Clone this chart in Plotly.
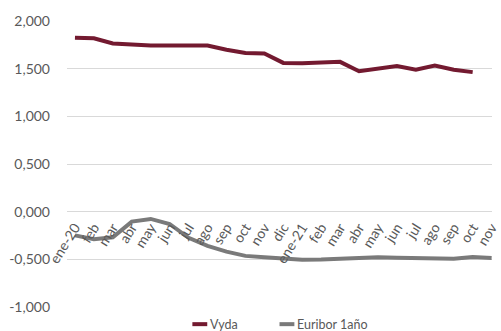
import plotly.graph_objects as go

# Monthly series, Jan 2020 - Nov 2021
months = ["ene-20", "feb", "mar", "abr", "may", "jun", "jul", "ago", "sep", "oct", "nov", "dic",
          "ene-21", "feb", "mar", "abr", "may", "jun", "jul", "ago", "sep", "oct", "nov"]
vyda = [1.825, 1.820, 1.766, 1.753, 1.745, 1.745, 1.745, 1.745, 1.700, 1.665, 1.660, 1.562,
        1.558, 1.565, 1.573, 1.475, 1.505, 1.530, 1.490, 1.535, 1.490, 1.465]
euribor = [-0.250, -0.290, -0.270, -0.105, -0.077, -0.130, -0.275, -0.360, -0.420, -0.465,
           -0.480, -0.495, -0.505, -0.503, -0.495, -0.487, -0.480, -0.486, -0.488, -0.497,
           -0.496, -0.477, -0.487]
y_ticks = [-1.0, -0.5, 0.0, 0.5, 1.0, 1.5, 2.0]
y_tick_text = ["-1,000", "-0,500", "0,000", "0,500", "1,000", "1,500", "2,000"]
series_names = ["Vyda", "Euribor 1año"]
series_colors = ["#731a30", "#7a7a7a"]

x_idx = list(range(len(months)))
y_min, y_max = -1.0, 2.0

fig = go.Figure()
fig.add_trace(go.Scatter(x=x_idx[:len(vyda)], y=vyda, mode="lines", name=series_names[0],
                         line=dict(color=series_colors[0], width=4), showlegend=False))
fig.add_trace(go.Scatter(x=x_idx, y=euribor, mode="lines", name=series_names[1],
                         line=dict(color=series_colors[1], width=4), showlegend=False))

grey_text = "#595959"
fig.update_layout(
    width=501, height=331,
    margin=dict(l=67, r=0, t=21, b=24),
    plot_bgcolor="white", paper_bgcolor="white",
    font=dict(family="Lato, Open Sans, sans-serif", color=grey_text),
    xaxis=dict(
        range=[-0.42, 22.02],
        tickmode="array", tickvals=x_idx, ticktext=months, tickangle=-58,
        tickfont=dict(size=14, color=grey_text), ticklabeloverflow="allow",
        ticklabelstandoff=4,
        showgrid=False, zeroline=False, showline=False, ticks="",
        anchor="free", position=(0 - y_min) / (y_max - y_min),
    ),
    yaxis=dict(
        range=[y_min - 0.002, y_max + 0.002],
        tickmode="array", tickvals=y_ticks, ticktext=y_tick_text,
        tickfont=dict(size=14, color=grey_text),
        showgrid=True, gridcolor="#d9d9d9", gridwidth=1,
        zeroline=False, showline=False, ticks="", ticklabelstandoff=16,
    ),
)

# Legend drawn beneath the plot area
legend_y = -0.06
legend_items = [(0.295, series_names[0], series_colors[0]), (0.50, series_names[1], series_colors[1])]
for x0, label, color in legend_items:
    fig.add_shape(type="line", xref="paper", yref="paper", x0=x0, x1=x0 + 0.035,
                  y0=legend_y, y1=legend_y, line=dict(color=color, width=4))
    fig.add_annotation(xref="paper", yref="paper", x=x0 + 0.037, y=legend_y, text=label,
                       showarrow=False, xanchor="left", yanchor="middle",
                       font=dict(size=12.5, color=grey_text))

fig.write_html("out.html")
